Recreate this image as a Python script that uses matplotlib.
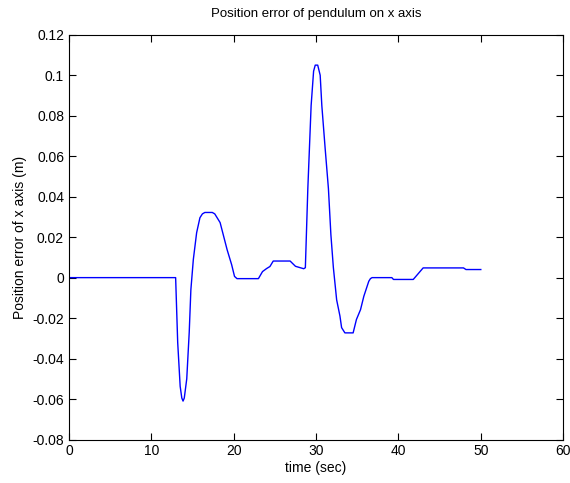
import matplotlib
matplotlib.use("Agg")
import matplotlib.pyplot as plt

plt.rcParams['font.family'] = ['Liberation Sans', 'DejaVu Sans']

time_s = [0, 12.95, 13.2, 13.5, 13.7, 13.85, 14.0, 14.3, 14.6, 14.8, 15.1, 15.5, 15.9,
          16.2, 16.5, 17.4, 17.7, 18.35, 19.2, 19.75, 20.1, 20.4, 23.0, 23.5, 24.0, 24.4, 24.8,
          26.85, 27.5, 28.5, 28.7, 29.0, 29.4, 29.7, 29.9, 30.2, 30.5, 30.7,
          31.1, 31.5, 31.8, 32.1, 32.5, 32.9, 33.1, 33.5, 34.5, 34.9, 35.4,
          35.8, 36.4, 36.6, 36.8, 39.2, 39.4, 41.8, 43.0, 47.9, 48.2, 50.0]
error_m = [0, 0, -0.032, -0.0537, -0.0595, -0.061, -0.0595, -0.050, -0.027, -0.006, 0.009,
           0.0222, 0.0296, 0.0315, 0.0322, 0.0322, 0.0315, 0.0272, 0.0138, 0.0064, 0.0006, -0.0005,
           -0.0005, 0.003, 0.0045, 0.0055, 0.0082, 0.0082, 0.0056, 0.0044, 0.0049, 0.044,
           0.085, 0.102, 0.105, 0.105, 0.100, 0.085, 0.064, 0.044, 0.0212, 0.005,
           -0.011, -0.019, -0.0247, -0.0273, -0.0273, -0.0207, -0.0158, -0.0092,
           -0.0018, -0.0005, 0.0, 0.0, -0.0009, -0.0009, 0.0048, 0.0048, 0.004, 0.004]

xticks = [0, 10, 20, 30, 40, 50, 60]
yticks = [-0.08, -0.06, -0.04, -0.02, 0, 0.02, 0.04, 0.06, 0.08, 0.1, 0.12]
ytick_labels = ['-0.08', '-0.06', '-0.04', '-0.02', '0', '0.02', '0.04', '0.06', '0.08', '0.1', '0.12']

fig = plt.figure(figsize=(5.70, 4.83), dpi=100)
ax = fig.add_axes([0.121, 0.090, 0.867, 0.838])
ax.plot(time_s, error_m, color='#0000ff', linewidth=1.0)
ax.set_xlim(0, 60)
ax.set_ylim(-0.08, 0.12)
ax.set_xticks(xticks)
ax.set_yticks(yticks)
ax.set_yticklabels(ytick_labels)
ax.tick_params(direction='in', top=True, right=True, length=5, labelsize=10, width=0.8)
for s in ax.spines.values():
    s.set_linewidth(0.8)
ax.set_xlabel('time (sec)', fontsize=10, labelpad=2)
ax.set_ylabel('Position error of x axis (m)', fontsize=10, labelpad=4)
ax.set_title('Position error of pendulum on x axis', fontsize=9.5, pad=13)
fig.savefig('out.png', dpi=100)
